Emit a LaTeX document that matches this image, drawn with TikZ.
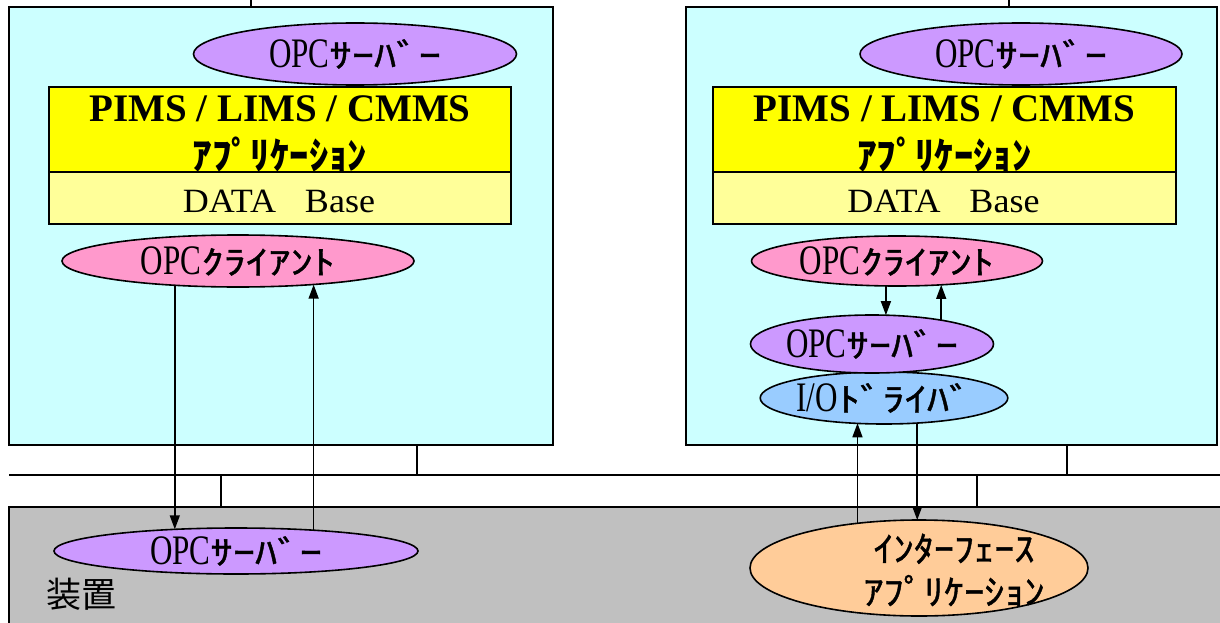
\documentclass[tikz,border=0pt]{standalone}
\usepackage{fontspec}
\setmainfont{Liberation Serif}
\newfontfamily\latn{Liberation Serif}[FakeStretch=0.74]
\newfontfamily\latw{Liberation Serif}[FakeStretch=1.06]
\newfontfamily\jpn{Noto Sans CJK JP}[FakeStretch=1.35,FakeBold=1.2]
\newfontfamily\jpm{Noto Sans CJK JP}[FakeStretch=1.15,FakeBold=1.2]
\newfontfamily\jpb{Noto Sans CJK JP}[FakeStretch=1.02]
\newfontfamily\jpk{Noto Sans CJK JP}
\usetikzlibrary{shapes.geometric,arrows.meta}
\definecolor{pcfill}{HTML}{CCFFFF}
\definecolor{srvfill}{HTML}{CC99FF}
\definecolor{clifill}{HTML}{FF99CC}
\definecolor{yelfill}{HTML}{FFFF00}
\definecolor{dbfill}{HTML}{FFFF99}
\definecolor{iofill}{HTML}{99CCFF}
\definecolor{iffill}{HTML}{FFCC99}
\definecolor{devfill}{HTML}{C0C0C0}
\newcommand{\latpart}[1]{{\fontsize{42}{42}\latn #1}}
\newcommand{\jppart}[1]{{\fontsize{33}{33}\jpn #1}}
\begin{document}
\begin{tikzpicture}[x=1pt,y=-1pt,
  every node/.style={inner sep=0pt, outer sep=0pt},
  pcbox/.style={rectangle, draw=black, line width=1.6pt, fill=pcfill},
  devbox/.style={rectangle, draw=black, line width=1.6pt, fill=devfill},
  appbox/.style={rectangle, draw=black, line width=1.6pt, fill=yelfill},
  dbbox/.style={rectangle, draw=black, line width=1.6pt, fill=dbfill},
  ell/.style={ellipse, draw=black, line width=1.6pt},
  srv/.style={ell, fill=srvfill},
  cli/.style={ell, fill=clifill},
  iodrv/.style={ell, fill=iofill},
  ifapp/.style={ell, fill=iffill},
  wire/.style={line width=1.5pt},
  arr/.style={wire, -{Triangle[length=14pt,width=10pt]}},
  apptext/.style={font=\fontsize{39}{39}\bfseries},
  appjp/.style={font=\fontsize{38}{38}\jpb\bfseries},
  dbtext/.style={font=\fontsize{34}{34}\latw},
  iftext/.style={font=\fontsize{35}{43}\jpm, align=center}
]
\useasboundingbox (0,0) rectangle (1220,623);
\clip (0,0) rectangle (1220,623);
\fill[white] (0,0) rectangle (1220,623);

% coordinates for free line ends
\coordinate (tL) at (251,0);
\coordinate (tR) at (1009,0);
\coordinate (busW) at (9,475);
\coordinate (busE) at (1225,475);
\coordinate (j1) at (417,475);
\coordinate (j2) at (221,475);
\coordinate (j3) at (1067,475);
\coordinate (j4) at (977,475);

% main boxes
\node[pcbox, minimum width=544pt, minimum height=438pt] (pcL) at (281,226) {};
\node[pcbox, minimum width=531pt, minimum height=438pt] (pcR) at (951.5,226) {};
\node[devbox, minimum width=1231pt, minimum height=133pt] (dev) at (624.5,573.5) {};

% network lines
\draw[wire] (tL) -- (tL |- pcL.north);
\draw[wire] (tR) -- (tR |- pcR.north);
\draw[wire] (busW) -- (busE);
\draw[wire] (j1 |- pcL.south) -- (j1);
\draw[wire] (j2) -- (j2 |- dev.north);
\draw[wire] (j3 |- pcR.south) -- (j3);
\draw[wire] (j4) -- (j4 |- dev.north);

% left PC
\node[srv, minimum width=323pt, minimum height=62pt] (srvTL) at (355,54) {\latpart{OPC}\jppart{ｻｰﾊﾞｰ}};
\node[appbox, minimum width=462pt, minimum height=85pt] (appL) at (280,129.5) {};
\node[dbbox, minimum width=462pt, minimum height=52pt] (dbL) at (280,198) {};
\node[apptext, anchor=base] (appLt1) at (280,122) {PIMS / LIMS / CMMS};
\node[appjp] (appLt2) at (280,154) {ｱﾌﾟﾘｹｰｼｮﾝ};
\node[dbtext, anchor=base] (dbLt) at (279,212) {DATA\hspace{0.85em}Base};
\node[cli, minimum width=352pt, minimum height=52pt] (cliL) at (238,261) {\latpart{OPC}\jppart{ｸﾗｲｱﾝﾄ}};

% right PC
\node[srv, minimum width=322pt, minimum height=62pt] (srvTR) at (1021,54) {\latpart{OPC}\jppart{ｻｰﾊﾞｰ}};
\node[appbox, minimum width=463pt, minimum height=85pt] (appR) at (944.5,129.5) {};
\node[dbbox, minimum width=463pt, minimum height=52pt] (dbR) at (944.5,198) {};
\node[apptext, anchor=base] (appRt1) at (944.5,122) {PIMS / LIMS / CMMS};
\node[appjp] (appRt2) at (944.5,154) {ｱﾌﾟﾘｹｰｼｮﾝ};
\node[dbtext, anchor=base] (dbRt) at (943.5,212) {DATA\hspace{0.85em}Base};
\node[cli, minimum width=291pt, minimum height=50pt] (cliR) at (897,261) {\latpart{OPC}\jppart{ｸﾗｲｱﾝﾄ}};
\node[iodrv, minimum width=211pt, minimum height=52pt] (io) at (884,398) {\latpart{I/O}\jppart{ﾄﾞﾗｲﾊﾞ}};
\node[srv, minimum width=238pt, minimum height=58pt] (srvM) at (872,344) {\latpart{OPC}\jppart{ｻｰﾊﾞｰ}};

% device
\node[srv, minimum width=364pt, minimum height=46pt] (srvB) at (236,551) {\latpart{OPC}\jppart{ｻｰﾊﾞｰ}};
\node[font=\fontsize{35}{35}\jpk] (devlabel) at (81,594) {装置};
\node[ifapp, minimum width=338pt, minimum height=96pt] (ifa) at (919,568) {};
\node[iftext] (ifatext) at (954,570) {ｲﾝﾀｰﾌｪｰｽ\\ｱﾌﾟﾘｹｰｼｮﾝ};

% arrows
\draw[arr] (cliL.201.4) -- (cliL.201.4 |- srvB.160.1);
\draw[arr] (srvB.15.4) -- (srvB.15.4 |- cliL.342.3);
\draw[arr] (cliR.246.2) -- (cliR.246.2 |- srvM.64.1);
\draw[arr] (srvM.19.3) -- (srvM.19.3 |- cliR.330.9);
\draw[arr] (ifa.144.8) -- (ifa.144.8 |- io.221.9);
\draw[arr] (io.323.2) -- (io.323.2 |- ifa.88);
\end{tikzpicture}
\end{document}
